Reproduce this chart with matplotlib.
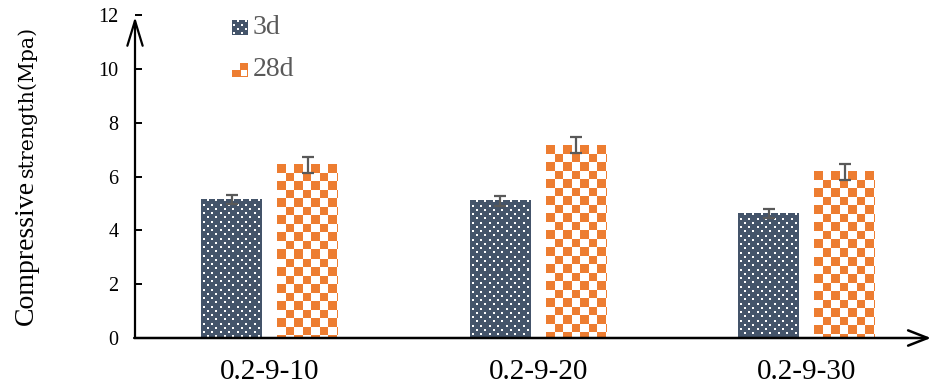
import matplotlib

matplotlib.use("Agg")

import matplotlib.pyplot as plt
import numpy as np

categories = ["0.2-9-10", "0.2-9-20", "0.2-9-30"]
series_names = ["3d", "28d"]
strength_3d = [5.15, 5.10, 4.63]
strength_28d = [6.43, 7.17, 6.18]
error_3d = [0.18, 0.18, 0.17]
error_28d = [0.30, 0.30, 0.30]
y_ticks = [0, 2, 4, 6, 8, 10, 12]

NAVY = np.array([0x44, 0x54, 0x6A]) / 255
ORANGE = np.array([0xED, 0x7D, 0x31]) / 255
WHITE = np.array([1.0, 1.0, 1.0])
TEXT_GREY = "#595959"

FIG_W = 932
FIG_H = 389
DPI = 100


def dotted_pattern(h, w, step=8.5):
    yy, xx = np.mgrid[0:h, 0:w]
    img = np.ones((h, w, 3)) * NAVY
    row = np.floor(yy / (step / 2)).astype(int)
    shift = np.where(row % 2 == 0, 0.0, step / 2)
    on_row = (yy % (step / 2)) < 2
    on_col = ((xx + shift + 3) % step) < 2
    img[on_row & on_col] = WHITE
    return img


def checker_pattern(h, w, cell=8.5):
    yy, xx = np.mgrid[0:h, 0:w]
    mask = ((np.floor(xx / cell) + np.floor(yy / cell)) % 2) == 0
    img = np.ones((h, w, 3)) * WHITE
    img[mask] = ORANGE
    return img


def fill_bars(ax, bars, pattern_fn):
    # paint a pixel pattern inside each bar rectangle
    for bar in bars:
        x0, y0 = bar.get_x(), bar.get_y()
        x1, y1 = x0 + bar.get_width(), y0 + bar.get_height()
        p0 = ax.transData.transform((x0, y0))
        p1 = ax.transData.transform((x1, y1))
        w = max(int(round(p1[0] - p0[0])), 1)
        h = max(int(round(p1[1] - p0[1])), 1)
        ax.imshow(
            pattern_fn(h, w),
            extent=(x0, x1, y0, y1),
            interpolation="nearest",
            aspect="auto",
            zorder=2,
        )


def legend_handles(fig):
    dots = dotted_pattern(15, 16, step=8)
    fig.figimage(dots, xo=232, yo=FIG_H - 35, zorder=5)

    check = np.ones((14, 16, 3)) * WHITE
    check[0:7, 8:16] = ORANGE
    check[7:14, 0:8] = ORANGE
    check[7:14, 8] = ORANGE
    check[7:14, 15] = ORANGE
    check[13, 8:16] = ORANGE
    fig.figimage(check, xo=232, yo=FIG_H - 77, zorder=5)

    fig.text(253 / FIG_W, 1 - 28 / FIG_H, series_names[0], fontsize=20,
             color=TEXT_GREY, va="center", ha="left")
    fig.text(253 / FIG_W, 1 - 70 / FIG_H, series_names[1], fontsize=20,
             color=TEXT_GREY, va="center", ha="left")


def main():
    plt.rcParams["font.family"] = ["Liberation Serif", "DejaVu Serif"]

    fig = plt.figure(figsize=(FIG_W / DPI, FIG_H / DPI), dpi=DPI)
    ax = fig.add_axes([135 / FIG_W, 51 / FIG_H, 797 / FIG_W, 323 / FIG_H])

    x = np.arange(len(categories))
    bar_width = 0.227
    offset = 0.1415

    ax.set_xlim(-0.501, 2.467)
    ax.set_ylim(0, 12)

    bars_3d = ax.bar(x - offset, strength_3d, bar_width, color="none",
                     edgecolor="none", zorder=1)
    bars_28d = ax.bar(x + offset, strength_28d, bar_width, color="none",
                      edgecolor="none", zorder=1)

    fill_bars(ax, bars_3d, dotted_pattern)
    fill_bars(ax, bars_28d, checker_pattern)

    ax.set_xlim(-0.501, 2.467)
    ax.set_ylim(0, 12)

    ax.errorbar(x - offset, strength_3d, yerr=error_3d, fmt="none",
                ecolor=TEXT_GREY, elinewidth=1.6, capsize=4.5, capthick=1.6,
                zorder=4)
    ax.errorbar(x + offset, strength_28d, yerr=error_28d, fmt="none",
                ecolor=TEXT_GREY, elinewidth=1.6, capsize=4.5, capthick=1.6,
                zorder=4)

    for side in ["top", "right", "left", "bottom"]:
        ax.spines[side].set_visible(False)

    # axis lines with open arrow heads
    ax.annotate("", xy=(0, 0.994), xytext=(0, 0), xycoords="axes fraction",
                arrowprops=dict(arrowstyle="->,head_length=1.8,head_width=0.55",
                                lw=1.6, color="black", shrinkA=0, shrinkB=0),
                annotation_clip=False)
    ax.annotate("", xy=(0.9987, 0), xytext=(-0.001, 0),
                xycoords="axes fraction",
                arrowprops=dict(arrowstyle="->,head_length=1.4,head_width=0.55",
                                lw=1.8, color="black", shrinkA=0, shrinkB=0),
                annotation_clip=False)

    ax.set_yticks(y_ticks)
    ax.tick_params(axis="y", direction="in", length=5, width=1.4,
                   labelsize=14.5, pad=12)
    ax.set_xticks(x)
    ax.set_xticklabels(categories)
    ax.tick_params(axis="x", length=0, labelsize=21, pad=15)

    fig.text(33 / FIG_W, 1 - 325 / FIG_H, "Compressive", fontsize=20,
             rotation=90, rotation_mode="anchor", ha="left", va="baseline")
    fig.text(33 / FIG_W, 1 - 177 / FIG_H, "strength(Mpa)", fontsize=14.8,
             family="DejaVu Serif", rotation=90, rotation_mode="anchor",
             ha="left", va="baseline")

    legend_handles(fig)

    fig.savefig("out.png", dpi=DPI)
    plt.close(fig)


if __name__ == "__main__":
    main()
